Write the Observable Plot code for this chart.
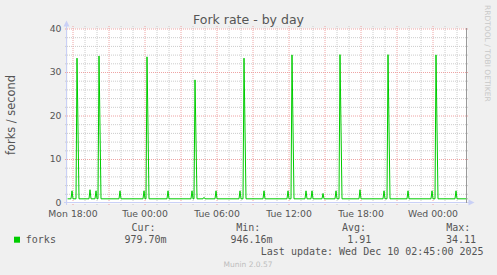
<!DOCTYPE html>
<html><head><meta charset="utf-8">
<script src="https://cdn.jsdelivr.net/npm/d3@7"></script>
<script src="https://cdn.jsdelivr.net/npm/@observablehq/plot@0.6"></script>
<style>
html,body{margin:0;padding:0;background:#F0F0F0;}
#chart svg{display:block;}
</style></head><body><div id="chart"></div>
<script>
// ---- data (5-minute samples, forks/second) ----
const startTime = "2025-12-08T17:35";
const endTime = "2025-12-10T02:55";
const lastSample = "2025-12-10T02:50";
const baselineValue = 0.96;
const bigSpikeTimes = ["2025-12-08T18:20","2025-12-08T20:10","2025-12-09T00:10","2025-12-09T04:10","2025-12-09T08:15","2025-12-09T12:15","2025-12-09T16:15","2025-12-09T20:15","2025-12-10T00:15"];
const bigSpikeValues = [33.3, 33.8, 33.6, 28.3, 33.3, 34.05, 34.11, 34.1, 34.05];
const smallSpikeTimes = ["2025-12-08T17:55","2025-12-08T19:25","2025-12-08T19:55","2025-12-08T21:55","2025-12-08T23:55","2025-12-09T01:55","2025-12-09T03:55","2025-12-09T04:55","2025-12-09T05:55","2025-12-09T07:55","2025-12-09T09:55","2025-12-09T11:55","2025-12-09T13:25","2025-12-09T13:55","2025-12-09T14:50","2025-12-09T15:55","2025-12-09T17:55","2025-12-09T19:55","2025-12-09T21:55","2025-12-09T23:55","2025-12-10T01:55"];
const smallSpikeValues = [2.8, 3.05, 2.8, 2.8, 2.8, 2.8, 2.8, 1.3, 2.8, 2.8, 2.8, 2.8, 2.8, 2.8, 2.2, 2.8, 3.05, 2.8, 2.8, 2.8, 2.8];
const xTickTimes = ["2025-12-08T18:00","2025-12-09T00:00","2025-12-09T06:00","2025-12-09T12:00","2025-12-09T18:00","2025-12-10T00:00"];
const xTickLabels = ["Mon 18:00","Tue 00:00","Tue 06:00","Tue 12:00","Tue 18:00","Wed 00:00"];
const yTicks = [0, 10, 20, 30, 40];
const seriesName = "forks";
const legendHeaders = ["Cur:", "Min:", "Avg:", "Max:"];
const legendValues = ["979.70m", "946.16m", "1.91", "34.11"];
const titleText = "Fork rate - by day";
const yLabelText = "forks / second";
const lastUpdateText = "Last update: Wed Dec 10 02:45:00 2025";
const footerText = "Munin 2.0.57";
const sideText = "RRDTOOL / TOBI OETIKER";

// ---- build the series from the readings ----
const T = s => new Date(s + ":00Z");
const MIN = 60000;
const pts = [{t: T(startTime), v: baselineValue}, {t: T(lastSample), v: baselineValue}];
smallSpikeTimes.forEach((s, i) => {
  const t = +T(s);
  pts.push({t: new Date(t - 5*MIN), v: baselineValue}, {t: new Date(t), v: smallSpikeValues[i]}, {t: new Date(t + 5*MIN), v: baselineValue});
});
bigSpikeTimes.forEach((s, i) => {
  const t = +T(s);
  pts.push({t: new Date(t - 5*MIN), v: baselineValue}, {t: new Date(t), v: bigSpikeValues[i]}, {t: new Date(t + 10*MIN), v: baselineValue});
});
pts.sort((a, b) => a.t - b.t);

// grid positions
const x0 = T(startTime), x1 = T(endTime);
const hours = d3.utcHour.range(x0, x1);
const xMajor = hours.filter(d => d.getUTCHours() % 3 === 0);
const xMinor = hours.filter(d => d.getUTCHours() % 3 !== 0);
const yMajor = d3.range(10, 41, 10);
const yMinor = d3.range(2, 40, 2).filter(d => d % 10 !== 0);
const xTicks = xTickTimes.map((s, i) => ({t: T(s), label: xTickLabels[i]}));

const FONT = "'DejaVu Sans', sans-serif";
const MONO = "'DejaVu Sans Mono', monospace";
const TXT = "#555555";

const chart = Plot.plot({
  width: 497, height: 275,
  marginLeft: 67, marginRight: 30, marginTop: 28, marginBottom: 72,
  style: {background: "#F0F0F0", fontFamily: FONT, color: TXT, overflow: "visible"},
  x: {type: "utc", domain: [x0, x1], range: [67.5, 467.5], axis: null},
  y: {domain: [0, 40], range: [202.5, 28.5], axis: null},
  marks: [
    Plot.frame({fill: "white", stroke: "none"}),
    Plot.ruleY(yMinor, {stroke: "#cccccc", strokeDasharray: "1,1", insetLeft: -2, insetRight: -2}),
    Plot.ruleX(xMinor, {stroke: "#cccccc", strokeDasharray: "1,1", insetTop: -2, insetBottom: -2}),
    Plot.ruleY(yMajor, {stroke: "#eea4a4", strokeDasharray: "1,1", insetLeft: -2, insetRight: -2}),
    Plot.ruleX(xMajor, {stroke: "#eea4a4", strokeDasharray: "1,1", insetTop: -2, insetBottom: -2}),
    Plot.line(pts, {x: "t", y: "v", stroke: "#00CC00", strokeWidth: 1}),
    Plot.text(yTicks, {y: d => d, frameAnchor: "left", dx: -6, textAnchor: "end", lineAnchor: "middle", fontSize: 9.3, fill: TXT}),
    Plot.text(xTicks, {x: "t", text: "label", frameAnchor: "bottom", dy: 7, lineAnchor: "top", fontSize: 9.3, fill: TXT})
  ]
});
document.getElementById("chart").appendChild(chart);

// ---- decorations (axes lines, arrows, titles, legend) ----
const svg = d3.select(chart);
const AX = "#c9d0f6";
svg.append("line").attr("x1", 66.5).attr("x2", 66.5).attr("y1", 205).attr("y2", 24).attr("stroke", AX);
svg.append("line").attr("x1", 64).attr("x2", 470).attr("y1", 202.5).attr("y2", 202.5).attr("stroke", AX);
svg.append("path").attr("d", "M63.5,26.5 L66.5,20.5 L69.5,26.5 Z").attr("fill", AX);
svg.append("path").attr("d", "M468.5,199.5 L474.5,202.5 L468.5,205.5 Z").attr("fill", AX);
svg.append("line").attr("x1", 466.5).attr("x2", 466.5).attr("y1", 28).attr("y2", 203).attr("stroke", "#9a9a9a");

svg.append("text").attr("x", 248.5).attr("y", 24).attr("text-anchor", "middle")
  .style("font-family", FONT).style("font-size", "12.5px").attr("fill", TXT).text(titleText);
svg.append("text").attr("transform", "translate(15,115) rotate(-90)").attr("text-anchor", "middle")
  .style("font-family", FONT).style("font-size", "11.4px").attr("fill", TXT).text(yLabelText);
svg.append("text").attr("transform", "translate(485,5) rotate(90)").attr("text-anchor", "start")
  .style("font-family", FONT).style("font-size", "7.5px").attr("fill", "#c8c8c8").text(sideText);

// legend
svg.append("rect").attr("x", 14).attr("y", 236.7).attr("width", 6).attr("height", 6).attr("fill", "#00CC00");
const mono = (x, y, s) => svg.append("text").attr("x", x).attr("y", y).attr("text-anchor", "start")
  .style("font-family", MONO).style("font-size", "10px").attr("fill", TXT).attr("xml:space", "preserve").text(s);
mono(25.8, 243, seriesName);
const headerX = [131.4, 236.2, 342, 446.2];
const valueX = [124.5, 230.5, 347.3, 446];
legendHeaders.forEach((h, i) => mono(headerX[i], 231, h));
legendValues.forEach((v, i) => mono(valueX[i], 243, v));
mono(260.8, 255, lastUpdateText);
svg.append("text").attr("x", 248).attr("y", 266.7).attr("text-anchor", "middle")
  .style("font-family", FONT).style("font-size", "7.5px").attr("fill", "#bdbdbd").text(footerText);
</script>
</body></html>
